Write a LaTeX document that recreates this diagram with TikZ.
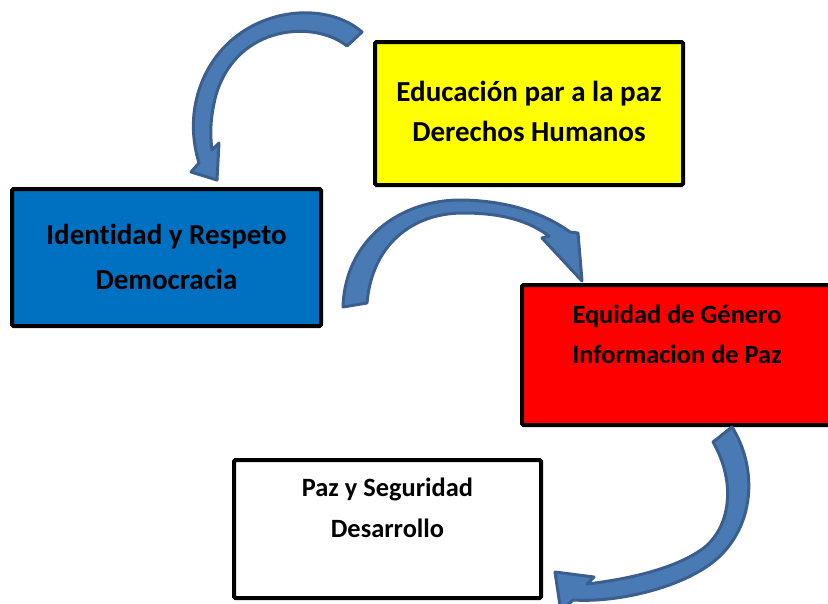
\documentclass[tikz,border=0pt]{standalone}
\usepackage{fontspec}
\setmainfont{Carlito}[Ligatures=NoCommon]
\usepackage{tikz}

\definecolor{boxyellow}{HTML}{FFFF00}
\definecolor{boxblue}{HTML}{0070C0}
\definecolor{boxred}{HTML}{FF0000}
\definecolor{arrowfill}{HTML}{4A7AB4}
\definecolor{arrowline}{HTML}{3A5F8E}

\begin{document}
\begin{tikzpicture}[x=1pt, y=-1pt,
    box/.style={draw=black, line width=4pt, rounded corners=1.5pt, inner sep=0pt, outer sep=0pt, align=center},
    bigtext/.style={font=\bfseries\fontsize{29}{40}\selectfont},
    smalltext/.style={font=\bfseries\fontsize{26.4}{41}\selectfont},
    curvearrow/.style={fill=arrowfill, draw=arrowline, line width=3pt, line join=round}]
    \useasboundingbox (0,0) rectangle (828,603);
    \clip (0,0) rectangle (828,603);
    \node[box, bigtext, fill=boxyellow, minimum width=308pt, minimum height=143pt](1) at (529,113.5)
        {\strut Educación par a la paz\\\strut Derechos Humanos};
    \node[box, bigtext, fill=boxblue, minimum width=309pt, minimum height=137pt, font=\bfseries\fontsize{29}{45}\selectfont](2) at (166.5,257.5)
        {\strut Identidad y Respeto\\\strut Democracia};
    \node[box, smalltext, fill=boxred, minimum width=310pt, minimum height=140pt, font=\bfseries\fontsize{26.4}{40}\selectfont](3) at (677,355)
        {\strut Equidad de Género\\\strut Informacion de Paz\\\strut};
    \node[box, smalltext, fill=white, minimum width=307pt, minimum height=138pt](4) at (387.5,529)
        {\strut Paz y Seguridad\\\strut Desarrollo\\\strut};
    % curved arrows
    \filldraw[curvearrow] (362,32) .. controls (320,-5) and (225,10) .. (199,90)
        .. controls (191,115) and (192,140) .. (199,163) -- (191,172) -- (217,180) -- (219,143) -- (212,150)
        .. controls (210,135) and (210,118) .. (216,95) .. controls (237,24) and (315,20) .. (347,46) -- cycle;
    \filldraw[curvearrow] (343,307) .. controls (345,240) and (400,199) .. (463,200)
        .. controls (510,201) and (545,214) .. (570,232) -- (578,233) -- (582,281) -- (542,238) -- (549,236)
        .. controls (530,222) and (505,213) .. (463,213) .. controls (412,213) and (372,245) .. (367,303) -- cycle;
    \filldraw[curvearrow] (732,427) .. controls (756,465) and (756,520) .. (721,555)
        .. controls (690,586) and (620,603) .. (573,600) -- (561,612) -- (555,572) -- (594,577) -- (587,584)
        .. controls (630,579) and (678,568) .. (705,547) .. controls (732,524) and (735,480) .. (713,442) -- cycle;
\end{tikzpicture}
\end{document}
